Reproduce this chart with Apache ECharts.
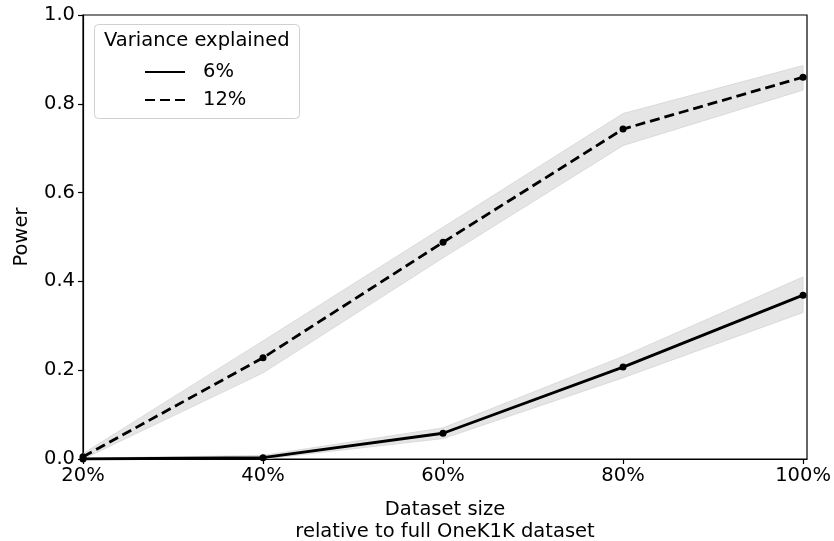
<!DOCTYPE html>
<html>
<head>
<meta charset="utf-8">
<script src="https://cdn.jsdelivr.net/npm/echarts@6/dist/echarts.min.js"></script>
<style>
  html, body { margin: 0; padding: 0; background: #fff; }
  #chart { width: 834px; height: 541px; }
</style>
</head>
<body>
<div id="chart"></div>
<script>
// Fraction of the full OneK1K dataset used
const datasetSize = [0.2, 0.4, 0.6, 0.8, 1.0];
const xTicks = [0.2, 0.4, 0.6, 0.8, 1.0];

// Power, 6% variance explained
const power6 = [0.0, 0.003, 0.058, 0.207, 0.369];
const power6Low = [0.0, 0.0, 0.046, 0.183, 0.330];
const power6High = [0.002, 0.008, 0.070, 0.231, 0.410];

// Power, 12% variance explained
const power12 = [0.005, 0.228, 0.488, 0.743, 0.860];
const power12Low = [0.0, 0.194, 0.453, 0.706, 0.831];
const power12High = [0.012, 0.266, 0.522, 0.778, 0.886];

const FONT = 'DejaVu Sans';
const FS = 19.5;
const pairs = (ys) => datasetSize.map((x, i) => [x, ys[i]]);

// Shaded interval drawn as one polygon through the axis coordinates
function band(name, lo, hi) {
  return {
    type: 'custom', name: name, z: 1, silent: true, clip: true,
    data: datasetSize.map((x, i) => [x, lo[i], hi[i]]),
    encode: { x: 0, y: [1, 2] },
    renderItem: function (params, api) {
      if (params.dataIndex !== 0) return null;
      const upper = datasetSize.map((x, i) => api.coord([x, hi[i]]));
      const lower = datasetSize.map((x, i) => api.coord([x, lo[i]])).reverse();
      return {
        type: 'polygon',
        shape: { points: upper.concat(lower) },
        style: { fill: '#e5e5e5', stroke: '#dadada', lineWidth: 1 }
      };
    }
  };
}

const chart = echarts.init(document.getElementById('chart'), null, { renderer: 'canvas' });

chart.setOption({
  animation: false,
  backgroundColor: '#fff',
  grid: {
    left: 83, right: 27, top: 15, bottom: 82,
    outerBoundsMode: 'none', containLabel: false,
    show: true, borderColor: '#000', borderWidth: 1.2, backgroundColor: 'transparent'
  },
  xAxis: {
    type: 'value', min: 0.2, max: 1.0044,
    splitLine: { show: false },
    axisLine: { show: true, onZero: false, lineStyle: { color: '#000', width: 1.2 } },
    axisTick: { show: true, length: 5, customValues: xTicks, lineStyle: { color: '#000', width: 1.2 } },
    axisLabel: {
      customValues: xTicks, color: '#000', fontFamily: FONT, fontSize: FS, margin: 7,
      formatter: (v) => Math.round(v * 100) + '%'
    },
    name: 'Dataset size\nrelative to full OneK1K dataset',
    nameLocation: 'middle', nameGap: 40,
    nameTextStyle: { color: '#000', fontFamily: FONT, fontSize: FS, lineHeight: 22, verticalAlign: 'top' }
  },
  yAxis: {
    type: 'value', min: 0, max: 1, interval: 0.2,
    splitLine: { show: false },
    axisLine: { show: true, lineStyle: { color: '#000', width: 1.2 } },
    axisTick: { show: true, length: 5, lineStyle: { color: '#000', width: 1.2 } },
    axisLabel: {
      color: '#000', fontFamily: FONT, fontSize: FS, margin: 8,
      formatter: (v) => v.toFixed(1)
    },
    name: 'Power', nameLocation: 'middle', nameGap: 51,
    nameTextStyle: { color: '#000', fontFamily: FONT, fontSize: FS }
  },
  legend: {
    data: ['6%', '12%'],
    orient: 'vertical', left: 139, top: 57,
    itemWidth: 40, itemHeight: 18, itemGap: 8,
    textStyle: { color: '#000', fontFamily: FONT, fontSize: FS, padding: [0, 0, 0, 13] },
    itemStyle: { opacity: 0 },
    selectedMode: false
  },
  graphic: [
    {
      type: 'rect', left: 94, top: 24, z: 0,
      shape: { width: 205, height: 94, r: 4 },
      style: { fill: 'rgba(255,255,255,0.8)', stroke: '#d0d0d0', lineWidth: 1 }
    },
    {
      type: 'text', left: 104, top: 31, z: 10,
      style: { text: 'Variance explained', fill: '#000', font: FS + 'px "DejaVu Sans"' }
    }
  ],
  series: [
    band('band6', power6Low, power6High),
    band('band12', power12Low, power12High),
    {
      type: 'line', name: '6%', data: pairs(power6), z: 5,
      symbol: 'circle', symbolSize: 7, showSymbol: true,
      itemStyle: { color: '#000' },
      lineStyle: { color: '#000', width: 2.8, type: 'solid' }
    },
    {
      type: 'line', name: '12%', data: pairs(power12), z: 5,
      symbol: 'circle', symbolSize: 7, showSymbol: true,
      itemStyle: { color: '#000' },
      lineStyle: { color: '#000', width: 2.8, type: [10, 5] }
    }
  ]
});
</script>
</body>
</html>
